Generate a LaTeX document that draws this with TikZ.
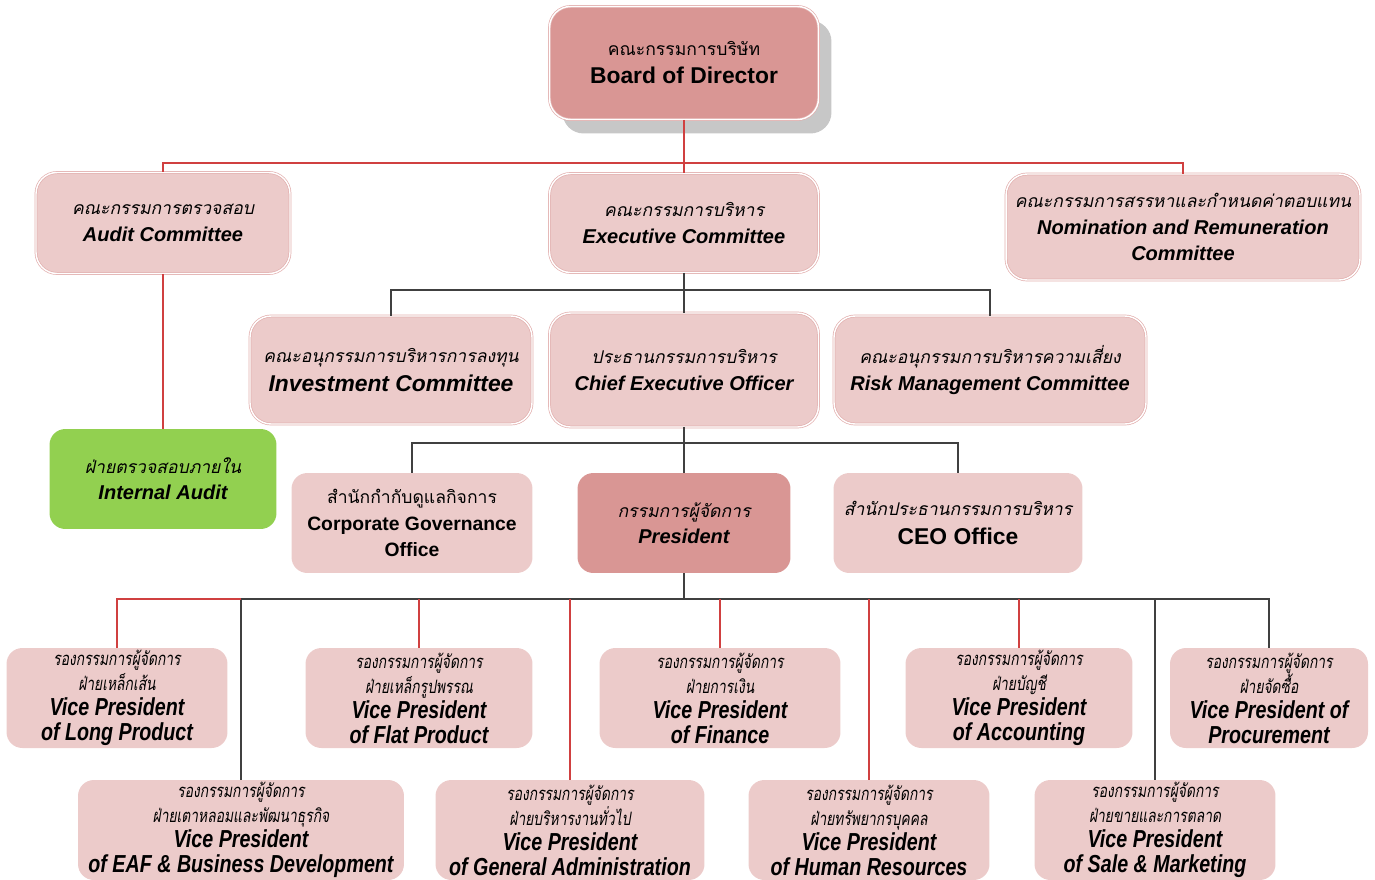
\documentclass[tikz,border=0pt]{standalone}
\usepackage{fontspec}
\setmainfont{Liberation Sans}
\newfontfamily\thaifont[Script=Thai]{Loma}
\newfontfamily\thainarrow[Script=Thai,FakeStretch=0.75]{Loma}
\newfontfamily\narrowfont[FakeStretch=0.8]{Liberation Sans}
\usepackage{xcolor}
\usepackage{tikz}
\usetikzlibrary{shapes,shadows}
\usetikzlibrary{calc}

\definecolor{boxpink}{HTML}{ECCBCA}
\definecolor{darkpink}{HTML}{D99694}
\definecolor{edgepink}{HTML}{E2AFAE}
\definecolor{auditgreen}{HTML}{92D050}
\definecolor{redline}{HTML}{D04040}
\definecolor{grayline}{HTML}{404040}

\newcommand{\thtop}[1]{{\thaifont\itshape\fontsize{10}{12}\selectfont #1}}
\newcommand{\thup}[1]{{\thaifont\fontsize{10}{12}\selectfont #1}}
\newcommand{\entop}[1]{{\bfseries\itshape\fontsize{11.4}{14}\selectfont #1}}
\newcommand{\thvp}[1]{{\thainarrow\itshape\fontsize{10.5}{12}\selectfont #1}}
\newcommand{\envp}[1]{{\narrowfont\bfseries\itshape\fontsize{14}{14}\selectfont #1}}

\begin{document}
\begin{tikzpicture}[x=0.02cm,y=-0.02cm]

		\tikzstyle{committee} = [rectangle, rounded corners=12pt, draw=edgepink, double=white, double distance=0.8pt, line width=0.4pt, fill=boxpink, inner sep=0pt, align=center, font=\fontsize{11}{15}\selectfont]
		\tikzstyle{office} = [rectangle, rounded corners=9pt, fill=boxpink, inner sep=0pt, minimum height=2cm, align=center, font=\fontsize{11}{15}\selectfont]
		\tikzstyle{vp} = [office, font=\fontsize{11}{14.2}\selectfont]
		\tikzstyle{redbus} = [draw=redline, line width=0.8pt]
		\tikzstyle{graybus} = [draw=grayline, line width=0.8pt]
		\useasboundingbox (0,0) rectangle (1375,879);
		%%Boxes
		\node [committee, fill=darkpink, minimum width=5.38cm, minimum height=2.26cm, drop shadow={shadow xshift=0.26cm, shadow yshift=-0.28cm, fill=black!22, opacity=1}] (board) at (684,63) {\thup{คณะกรรมการบริษัท}\\[1pt]{\bfseries\fontsize{13}{16}\selectfont Board of Director}};
		\node [committee, minimum width=5.08cm, minimum height=2.02cm] (audit) at (163,223) {\thtop{คณะกรรมการตรวจสอบ}\\\entop{Audit Committee}};
		\node [committee, minimum width=5.38cm, minimum height=1.98cm] (exec) at ($(board) + (0, 160)$) {\thtop{คณะกรรมการบริหาร}\\\entop{Executive Committee}};
		\node [committee, minimum width=7.08cm, minimum height=2.12cm] (nom) at (1183,227) {\thtop{คณะกรรมการสรรหาและกำหนดค่าตอบแทน}\\\entop{Nomination and Remuneration}\\\entop{Committee}};
		\node [committee, minimum width=5.64cm, minimum height=2.16cm] (invest) at (391,370) {\thtop{คณะอนุกรรมการบริหารการลงทุน}\\[1pt]{\bfseries\itshape\fontsize{13}{16}\selectfont Investment Committee}};
		\node [committee, minimum width=5.38cm, minimum height=2.28cm] (ceo) at ($(exec) + (0, 147)$) {\thtop{ประธานกรรมการบริหาร}\\\entop{Chief Executive Officer}};
		\node [committee, minimum width=6.24cm, minimum height=2.16cm] (risk) at (990,370) {\thtop{คณะอนุกรรมการบริหารความเสี่ยง}\\\entop{Risk Management Committee}};
		\node [office, fill=auditgreen, minimum width=4.54cm] (internal) at (163,479) {\thtop{ฝ่ายตรวจสอบภายใน}\\\entop{Internal Audit}};
		\node [office, minimum width=4.82cm] (cgo) at (412,523) {\thup{สำนักกำกับดูแลกิจการ}\\{\bfseries Corporate Governance}\\{\bfseries Office}};
		\node [office, fill=darkpink, minimum width=4.26cm] (pres) at ($(ceo) + (0, 153)$) {\thtop{กรรมการผู้จัดการ}\\\entop{President}};
		\node [office, minimum width=4.98cm] (ceooffice) at (958,523) {\thtop{สำนักประธานกรรมการบริหาร}\\[1pt]{\bfseries\fontsize{13}{16}\selectfont CEO Office}};
		\node [vp, minimum width=4.42cm] (long) at (117,698) {\thvp{รองกรรมการผู้จัดการ}\\\thvp{ฝ่ายเหล็กเส้น}\\\envp{Vice President}\\\envp{of Long Product}};
		\node [vp, minimum width=4.54cm] (flat) at (419,698) {\thvp{รองกรรมการผู้จัดการ}\\\thvp{ฝ่ายเหล็กรูปพรรณ}\\\envp{Vice President}\\\envp{of Flat Product}};
		\node [vp, minimum width=4.82cm] (finance) at (720,698) {\thvp{รองกรรมการผู้จัดการ}\\\thvp{ฝ่ายการเงิน}\\\envp{Vice President}\\\envp{of Finance}};
		\node [vp, minimum width=4.54cm] (account) at (1019,698) {\thvp{รองกรรมการผู้จัดการ}\\\thvp{ฝ่ายบัญชี}\\\envp{Vice President}\\\envp{of Accounting}};
		\node [vp, minimum width=3.96cm] (procure) at (1269,698) {\thvp{รองกรรมการผู้จัดการ}\\\thvp{ฝ่ายจัดซื้อ}\\\envp{Vice President of}\\\envp{Procurement}};
		\node [vp, minimum width=6.52cm] (eaf) at (241,830) {\thvp{รองกรรมการผู้จัดการ}\\\thvp{ฝ่ายเตาหลอมและพัฒนาธุรกิจ}\\\envp{Vice President}\\\envp{of EAF \& Business Development}};
		\node [vp, minimum width=5.38cm] (admin) at (570,830) {\thvp{รองกรรมการผู้จัดการ}\\\thvp{ฝ่ายบริหารงานทั่วไป}\\\envp{Vice President}\\\envp{of General Administration}};
		\node [vp, minimum width=4.82cm] (hr) at (869,830) {\thvp{รองกรรมการผู้จัดการ}\\\thvp{ฝ่ายทรัพยากรบุคคล}\\\envp{Vice President}\\\envp{of Human Resources}};
		\node [vp, minimum width=4.82cm] (sale) at (1155,830) {\thvp{รองกรรมการผู้จัดการ}\\\thvp{ฝ่ายขายและการตลาด}\\\envp{Vice President}\\\envp{of Sale \& Marketing}};
		%%Lines
		\coordinate (topbus) at (684,163);
		\coordinate (midbus) at (684,290);
		\coordinate (lowbus) at (684,443);
		\coordinate (vpbus) at (684,599);
		\coordinate (vpred) at (241,599);
		\draw [redbus] (board)--(topbus)--(exec);
		\draw [redbus] (topbus) -| (audit);
		\draw [redbus] (topbus) -| (nom);
		\draw [redbus] (audit)--(internal);
		\draw [graybus] (exec)--(midbus)--(ceo);
		\draw [graybus] (midbus) -| (invest);
		\draw [graybus] (midbus) -| (risk);
		\draw [graybus] (ceo)--(lowbus)--(pres);
		\draw [graybus] (lowbus) -| (cgo);
		\draw [graybus] (lowbus) -| (ceooffice);
		\draw [graybus] (pres)--(vpbus);
		\draw [graybus] (vpbus) -| (eaf);
		\draw [graybus] (vpbus) -| (procure);
		\draw [graybus] (sale |- vpbus)--(sale);
		\draw [redbus] (vpred) -| (long);
		\draw [redbus] (flat |- vpbus)--(flat);
		\draw [redbus] (admin |- vpbus)--(admin);
		\draw [redbus] (finance |- vpbus)--(finance);
		\draw [redbus] (hr |- vpbus)--(hr);
		\draw [redbus] (account |- vpbus)--(account);
	\end{tikzpicture}
\end{document}
